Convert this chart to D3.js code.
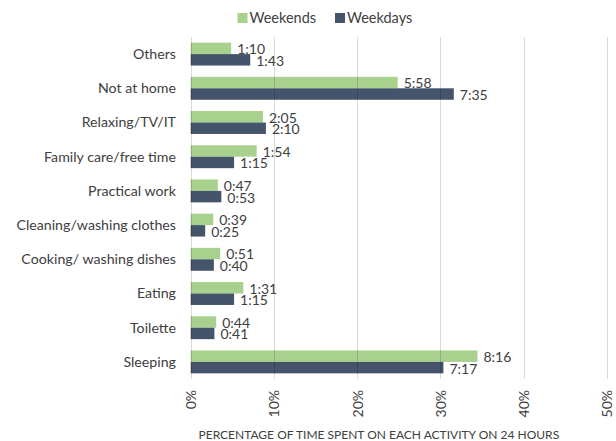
<!DOCTYPE html>
<html><head><meta charset="utf-8">
<script src="https://cdn.jsdelivr.net/npm/d3@7"></script>
<style>
body{margin:0;background:#fff;}
text{font-family:Lato,"Open Sans",sans-serif;fill:#404040;}
</style></head>
<body><svg id="c" width="616" height="441"></svg>
<script>
const categories = ["Others","Not at home","Relaxing/TV/IT","Family care/free time","Practical work","Cleaning/washing clothes","Cooking/ washing dishes","Eating","Toilette","Sleeping"];
const weekendsPct = [4.86,24.86,8.68,7.92,3.26,2.71,3.54,6.32,3.06,34.44];
const weekdaysPct = [7.15,31.60,9.03,5.21,3.68,1.74,2.78,5.21,2.85,30.35];
const weekendsLabels = ["1:10","5:58","2:05","1:54","0:47","0:39","0:51","1:31","0:44","8:16"];
const weekdaysLabels = ["1:43","7:35","2:10","1:15","0:53","0:25","0:40","1:15","0:41","7:17"];
const ticks = [0,10,20,30,40,50];
const seriesNames = ["Weekends","Weekdays"];
const colors = ["#a9d18e","#44546a"];

const svg = d3.select("#c");
const m = {l:190.7, r:9, t:37, b:62};
const W = 616, H = 441;
const x = d3.scaleLinear().domain([0,50]).range([m.l, W - m.r]);
const y = d3.scaleBand().domain(categories).range([m.t, H - m.b]).paddingInner(0.33).paddingOuter(0.165);
const y2 = d3.scaleBand().domain(seriesNames).range([0, y.bandwidth()]);

const series = [
  {name:"Weekends", vals:weekendsPct, labels:weekendsLabels, color:colors[0]},
  {name:"Weekdays", vals:weekdaysPct, labels:weekdaysLabels, color:colors[1]}
];
series.forEach(s => {
  svg.append("g").selectAll("rect").data(categories).join("rect")
    .attr("x", x(0))
    .attr("y", d => y(d) + y2(s.name))
    .attr("width", (d,i) => x(s.vals[i]) - x(0))
    .attr("height", y2.bandwidth())
    .attr("fill", s.color);
});

svg.append("g").selectAll("line").data(ticks).join("line")
  .attr("x1", d => Math.round(x(d)) + 0.5).attr("x2", d => Math.round(x(d)) + 0.5)
  .attr("y1", m.t).attr("y2", H - m.b)
  .attr("stroke", "rgba(0,0,0,0.15)").attr("stroke-width", 1);

series.forEach(s => {
  svg.append("g").selectAll("text").data(categories).join("text")
    .attr("x", (d,i) => x(s.vals[i]) + 6)
    .attr("y", d => y(d) + y2(s.name) + y2.bandwidth()/2 + 1)
    .attr("dy", "0.35em")
    .attr("font-size", 14)
    .text((d,i) => s.labels[i]);
});

svg.append("g").selectAll("text").data(categories).join("text")
  .attr("x", 176)
  .attr("y", d => y(d) + y.bandwidth()/2)
  .attr("dy", "0.35em")
  .attr("text-anchor", "end")
  .attr("font-size", 14.2)
  .text(d => d);

const xAxis = d3.axisBottom(x).tickValues(ticks).tickFormat(d => d + "%").tickSize(0);
const gx = svg.append("g").attr("transform", `translate(0,${H - m.b})`).call(xAxis);
gx.select(".domain").remove();
gx.selectAll("text")
  .attr("font-size", 14)
  .attr("transform", "rotate(-90)")
  .attr("x", -11).attr("y", 0).attr("dy", "0.35em")
  .attr("text-anchor", "end");
gx.attr("font-family", null).attr("font-size", null);

svg.append("text")
  .attr("x", (x(0) + x(50))/2 - 20).attr("y", 438.5)
  .attr("text-anchor", "middle")
  .attr("font-size", 12)
  .text("PERCENTAGE OF TIME SPENT ON EACH ACTIVITY ON 24 HOURS");

const lg = svg.append("g");
const legX = [237.5, 335];
series.forEach((s,i) => {
  lg.append("rect").attr("x", legX[i]).attr("y", 13).attr("width", 10).attr("height", 10).attr("fill", s.color);
  lg.append("text").attr("x", legX[i] + 12).attr("y", 18).attr("dy", "0.35em").attr("font-size", 14.5).text(s.name);
});
</script></body></html>
